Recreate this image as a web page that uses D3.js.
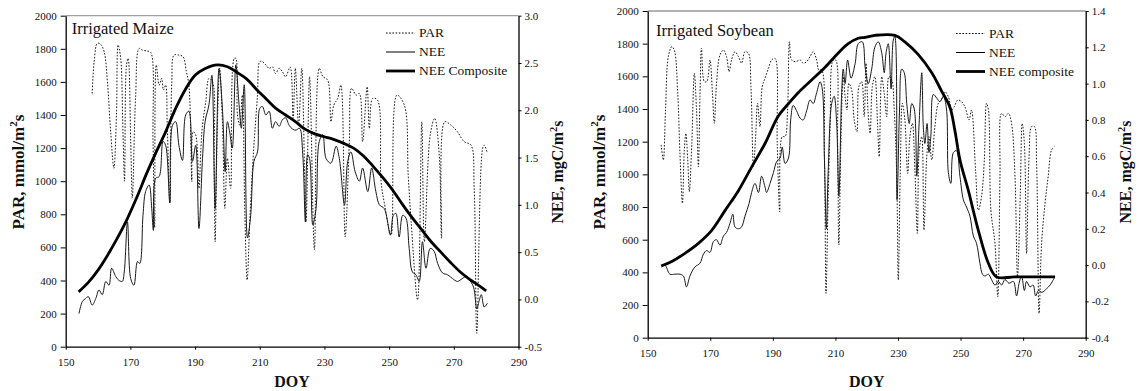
<!DOCTYPE html>
<html>
<head>
<meta charset="utf-8">
<script src="https://cdn.jsdelivr.net/npm/d3@7"></script>
<style>
  html, body { margin: 0; padding: 0; background: #fff; }
  svg { display: block; font-family: 'Liberation Serif', 'Times New Roman', serif; }
</style>
</head>
<body>
<svg id="chart" width="1140" height="391"></svg>
<script>
// DOY ticks shared by both panels
const doyTicks = [150, 170, 190, 210, 230, 250, 270, 290];
const parTicks = [0, 200, 400, 600, 800, 1000, 1200, 1400, 1600, 1800, 2000];
const maizeNeeTicks = [-0.5, 0, 0.5, 1.0, 1.5, 2.0, 2.5, 3.0];
const soyNeeTicks = [-0.4, -0.2, 0, 0.2, 0.4, 0.6, 0.8, 1.0, 1.2, 1.4];

// Irrigated maize, [DOY, value]
const maizePar = [
  [158.2,1530],[158.8,1722],[159.8,1833],[160.8,1827],[161.9,1782],[162.9,1601],[163.9,1299],[164.9,1078],
  [165.7,1400],[166.2,1823],[167,1742],[167.7,1299],[168.2,1000],[168.8,1702],[169.3,1742],[170.1,1239],
  [170.6,900],[171.6,1500],[172.7,1802],[173.7,1792],[175.3,1786],[176.3,1778],[177,1239],[177.5,720],
  [178,1702],[178.9,1581],[179.7,1621],[180.2,1551],[180.9,1581],[181.4,1339],[182.2,870],[182.8,1601],
  [183.5,1762],[185,1762],[186.3,1752],[187.3,1662],[188.1,1581],[189,997],[189.4,1299],[190.2,1279],
  [191.2,957],[191.8,1198],[192.3,1339],[193.3,1480],[194.3,1621],[195.4,1601],[195.9,1118],[196.2,634],
  [196.9,1339],[197.6,1682],[198.5,1339],[199.2,836],[200,1138],[201,957],[202.1,1742],[202.6,1742],
  [203.1,1400],[203.8,1339],[204.6,1520],[205.4,795],[206.1,403],[207,795],[208,1158],[209.3,1520],
  [210,1722],[210.8,1722],[211.9,1702],[212.9,1682],[213.9,1692],[214.9,1651],[216,1682],[217,1662],
  [218,1631],[219.4,1690],[220.3,1380],[221,1682],[222,1339],[223,1682],[224.3,753],[225.4,1631],
  [226.9,586],[228.4,1682],[229.5,1632],[231,1611],[232,1359],[232.9,1460],[234.1,1500],[235.1,1581],
  [236.4,665],[237.7,1239],[238.4,1561],[239.8,1520],[240.8,1530],[241.8,1239],[243.2,1571],[243.9,1319],
  [244.9,1500],[246.4,1490],[247.5,1000],[248.5,870],[250.6,675],[252.4,1520],[254.7,1460],[255.9,1037],
  [256.8,757],[258.8,282],[260.1,1359],[260.9,635],[262.7,1279],[264.1,1380],[265.5,1158],[266.2,655],
  [267.2,1359],[269.1,1339],[271.1,1299],[273.2,1239],[275.3,1218],[276.3,957],[277.1,81],[278.9,1198],
  [279.4,1218],[280.4,1168]
];
const maizeNee = [
  [154.1,-0.15],[155.2,-0.02],[156.2,0.01],[157,0.03],[158.2,-0.06],[159.3,0.01],[160.3,0.10],[161.3,0.05],
  [162.4,0.19],[163.4,0.15],[164.2,0.33],[165.5,0.24],[166.5,0.20],[167.5,0.19],[168.1,0.29],[169.1,0.82],
  [170.1,0.22],[171.1,0.15],[172.2,0.40],[172.9,0.38],[173.9,0.89],[174.7,1.14],[175.8,1.21],[176.6,0.96],
  [177.1,0.73],[177.8,1.28],[178.9,1.30],[180.1,1.67],[180.9,1.63],[182.2,1.02],[183,1.84],[184,1.88],
  [185,1.63],[186.1,1.47],[187.1,1.95],[188.1,1.99],[189.2,1.46],[190.2,1.63],[191.2,0.75],[192.3,1.49],
  [193.1,1.88],[194.3,2.06],[195.2,2.37],[196.2,0.96],[197.4,2.44],[198.5,1.99],[199.3,1.35],[200,1.88],
  [200.7,1.77],[201.5,1.60],[202.6,2.48],[203.6,2.06],[204.3,1.81],[205.2,2.27],[206.2,0.65],[207.2,0.89],
  [208.2,1.46],[209.3,1.56],[210,2.02],[210.8,2.04],[211.9,1.95],[212.9,1.99],[213.9,1.81],[214.9,1.88],
  [216,1.83],[217,1.90],[218,1.92],[219.1,1.84],[220.2,1.80],[221.2,1.79],[222.3,1.81],[223.3,1.53],
  [224.1,0.82],[224.8,1.53],[225.4,1.49],[226.4,0.79],[227.4,0.96],[228.4,1.67],[229.5,1.74],[230.5,1.49],
  [232,1.44],[233.6,1.62],[234.6,1.49],[236.2,1.00],[237.2,1.46],[238.2,1.56],[239.5,1.35],[240.8,1.25],
  [241.8,1.39],[243.4,1.14],[244.6,1.39],[245.9,1.14],[247,1.00],[248.5,0.96],[250.4,0.68],[251.3,0.89],
  [252.1,0.91],[253.1,0.66],[254.2,0.89],[255.2,0.86],[256.2,0.54],[257.2,0.29],[258.3,0.26],[259.3,0.19],
  [260.3,0.61],[261.4,0.33],[262.7,0.54],[263.9,0.51],[265,0.38],[266.5,0.28],[268.1,0.26],[269.6,0.22],
  [271.1,0.19],[272.2,0.21],[273.7,0.24],[274.7,0.21],[276.1,0.13],[277.1,-0.10],[277.8,-0.02],[278.5,0.05],
  [279.4,-0.08],[280.4,-0.04]
];
const maizeComposite = [
  [154,0.08],[157,0.18],[160,0.31],[163,0.47],[166,0.65],[169,0.85],[172,1.08],[175,1.33],[178,1.56],
  [181,1.78],[184,2.02],[187,2.22],[190,2.37],[193,2.44],[197,2.48],[200,2.46],[203,2.40],[206,2.33],
  [209,2.22],[212,2.12],[215,2.02],[218,1.95],[221,1.88],[224,1.80],[227,1.75],[230,1.72],[233,1.69],
  [236,1.65],[239,1.60],[242,1.52],[245,1.41],[248,1.29],[251,1.16],[254,1.01],[257,0.87],[260,0.74],
  [263,0.61],[266,0.50],[269,0.39],[272,0.29],[275,0.21],[278,0.14],[280,0.09]
];

// Irrigated soybean, [DOY, value]
const soyPar = [
  [154.3,1180],[155,1088],[155.7,1394],[156.6,1721],[157.7,1782],[158.5,1761],[159.6,1496],[160.3,1129],
  [161.1,823],[161.7,1149],[162.2,1251],[162.8,1088],[163.3,894],[164.1,1190],[164.9,1619],[165.6,1394],
  [166.2,1047],[166.7,1476],[167.2,1772],[168.1,1568],[168.9,1568],[169.9,1700],[170.7,1496],[171.3,1312],
  [172,1557],[173.1,1731],[174.2,1761],[175.2,1721],[176,1629],[176.8,1700],[177.9,1751],[179,1721],
  [180,1680],[181.1,1751],[182.2,1741],[183,1537],[183.8,1047],[184.5,1231],[185.1,1435],[185.9,1292],
  [186.6,1537],[187.5,1588],[188.6,1649],[189.6,1700],[190.7,1710],[191.4,1190],[192.2,771],[193,1231],
  [193.9,1231],[194.7,1394],[195.3,1812],[196,1700],[197.3,1690],[198.7,1700],[199.7,1680],[200.8,1690],
  [201.9,1721],[202.9,1751],[204,1700],[204.7,1639],[205.6,1639],[206.5,1088],[207,272],[207.6,781],
  [208.3,1292],[209.3,1700],[210.1,1700],[210.7,1190],[211.1,568],[211.8,1231],[212.5,1598],[213.1,1476],
  [213.7,1394],[214.3,1557],[215.2,1516],[216,1333],[216.9,1261],[217.5,1537],[218.4,1568],[219.2,1353],
  [219.8,1680],[220.4,1394],[221.1,1251],[221.8,1537],[222.6,1598],[223.5,1292],[224,1108],[224.8,1598],
  [225.6,1496],[226.4,1353],[227.1,1598],[228,1578],[228.8,1394],[229.6,986],[230.1,353],[230.7,986],
  [231.4,1435],[232.2,1333],[233.1,1006],[233.8,1231],[234.6,1312],[235.4,1027],[236.2,639],[236.8,1149],
  [237.6,1231],[238.3,659],[239.2,1108],[239.9,1231],[240.8,1088],[241.8,1292],[242.9,1435],[244.2,1466],
  [245,1506],[246.1,1476],[247.2,1394],[248,1414],[249.1,1455],[250.3,1445],[251.4,1414],[252.7,1333],
  [253.5,1394],[254.8,1027],[255.7,781],[256.7,863],[257.6,1088],[258.3,1435],[258.9,1394],[259.7,781],
  [261,577],[261.9,251],[262.6,986],[263.1,1373],[264.2,1353],[265.3,1373],[266.3,1312],[267.4,986],
  [268.2,373],[269.1,884],[269.7,1312],[270.4,1190],[271.1,516],[271.9,1108],[272.7,1292],[273.6,1292],
  [274.3,1067],[275.1,149],[275.9,577],[277,822],[278,986],[279.1,1149],[280,1169]
];
const soyNee = [
  [154.5,-0.01],[155.5,0.00],[157.1,-0.05],[158.7,-0.05],[160.3,-0.05],[161.4,-0.06],[162.4,-0.12],[163.5,-0.06],
  [165.1,-0.01],[166.7,0.01],[167.8,0.06],[168.8,0.08],[169.9,0.07],[171,0.13],[172,0.14],[173.1,0.11],
  [174.2,0.16],[175.2,0.18],[176.3,0.23],[177.2,0.28],[177.9,0.21],[179,0.20],[180,0.21],[181.1,0.27],
  [182.4,0.34],[183.2,0.40],[184.3,0.45],[185.4,0.40],[186.4,0.49],[187.5,0.43],[188,0.40],[189.1,0.45],
  [190.2,0.51],[191.2,0.57],[192.3,0.59],[193,0.65],[193.9,0.56],[195,0.59],[195.7,0.80],[196.5,0.88],
  [197.6,0.85],[198.7,0.81],[199.7,0.80],[200.8,0.85],[201.9,0.91],[202.9,0.89],[204,0.95],[205.1,1.01],
  [205.8,0.97],[206.5,0.58],[207.1,0.20],[207.7,0.52],[208.8,0.89],[209.6,0.93],[210.4,0.78],[211.1,0.38],
  [212,0.95],[212.5,1.08],[213.1,1.00],[213.9,1.13],[215,1.03],[216.3,1.11],[217.3,1.22],[218.6,1.23],
  [219.5,1.09],[220.5,1.00],[221.6,1.08],[222.6,1.20],[223.7,1.23],[224.8,1.17],[225.6,1.06],[226.2,1.17],
  [226.9,1.22],[227.8,0.97],[228.5,1.24],[229,1.26],[229.7,0.36],[230.5,0.86],[231.2,1.08],[232,1.06],
  [232.8,0.89],[233.6,0.78],[234.4,0.89],[235.2,0.86],[236,0.49],[236.7,0.76],[237.6,1.06],[238.1,0.76],
  [238.6,0.67],[239.3,0.78],[239.9,0.62],[240.5,0.71],[241.3,0.94],[242.4,0.92],[243.4,0.90],[244.5,0.93],
  [245.5,0.86],[246.1,0.51],[246.9,0.45],[247.7,0.62],[248.7,0.63],[249.8,0.49],[250.9,0.36],[251.9,0.32],
  [253,0.27],[254.1,0.16],[255.1,0.12],[256.2,0.01],[257,-0.05],[257.8,-0.06],[258.9,-0.05],[259.9,-0.08],
  [261,-0.11],[262.1,-0.09],[263.1,-0.11],[264.2,-0.08],[265.5,-0.10],[266.9,-0.09],[267.9,-0.17],[268.7,-0.10],
  [269.5,-0.06],[270.4,-0.14],[271.1,-0.09],[272.2,-0.12],[273.2,-0.11],[274,-0.17],[274.9,-0.14],[276,-0.15],
  [277.5,-0.13],[278.6,-0.11],[280,-0.07]
];
const soyComposite = [
  [154.3,-0.005],[157.7,0.02],[161.9,0.065],[166.2,0.12],[170.4,0.19],[174.7,0.30],[179,0.41],[183.2,0.54],
  [187.5,0.67],[191.7,0.82],[195,0.89],[198.1,0.95],[202.4,1.02],[206.7,1.09],[211,1.17],[214.1,1.22],
  [217.3,1.25],[219.5,1.255],[222.6,1.266],[229,1.266],[232.2,1.23],[236.5,1.16],[240.8,1.06],[243.9,0.96],
  [246.6,0.87],[248.2,0.74],[249.8,0.58],[252.5,0.41],[255.7,0.19],[258.9,0.01],[261.5,-0.065],[267.4,-0.065],
  [280.2,-0.065]
];

const svg = d3.select('#chart');
const serif = "'Liberation Serif', 'Times New Roman', serif";
const fmtNee = d => d3.format('.1f')(d).replace('\u2212', '-');
const fmtPar = d3.format('d');

function drawPanel(cfg) {
  const x = d3.scaleLinear().domain([150, 290]).range([cfg.left, cfg.right]);
  const yPar = d3.scaleLinear().domain([0, 2000]).range([cfg.bottom, cfg.top]);
  const yNee = d3.scaleLinear().domain(cfg.neeDomain).range([cfg.bottom, cfg.top]);

  const g = svg.append('g');

  // top frame line
  g.append('line')
    .attr('x1', cfg.left).attr('x2', cfg.right)
    .attr('y1', cfg.top).attr('y2', cfg.top)
    .attr('stroke', cfg.frameColor).attr('stroke-width', 1.2);

  const ax = (sel) => {
    sel.attr('font-family', serif).attr('font-size', 11);
    sel.selectAll('text').attr('fill', '#111');
    sel.selectAll('line').attr('stroke', '#000');
    sel.select('.domain').attr('stroke', '#000').attr('stroke-width', 1.3);
  };

  g.append('g')
    .attr('transform', `translate(0,${cfg.bottom})`)
    .call(d3.axisBottom(x).tickValues(doyTicks).tickFormat(fmtPar)
      .tickSize(3).tickSizeOuter(0).tickPadding(9))
    .call(ax);

  g.append('g')
    .attr('transform', `translate(${cfg.left},0)`)
    .call(d3.axisLeft(yPar).tickValues(parTicks).tickFormat(fmtPar)
      .tickSize(5).tickSizeOuter(0).tickPadding(4))
    .call(ax);

  g.append('g')
    .attr('transform', `translate(${cfg.right},0)`)
    .call(d3.axisRight(yNee).tickValues(cfg.neeTicks).tickFormat(fmtNee)
      .tickSize(3).tickSizeOuter(0).tickPadding(3))
    .call(ax);

  const curve = d3.curveCatmullRom.alpha(0.5);
  const parLine = d3.line().x(d => x(d[0])).y(d => yPar(d[1])).curve(curve);
  const neeLine = d3.line().x(d => x(d[0])).y(d => yNee(d[1])).curve(curve);

  g.append('path').datum(cfg.par).attr('d', parLine)
    .attr('fill', 'none').attr('stroke', '#000').attr('stroke-width', 0.9)
    .attr('stroke-dasharray', '1.6,1.6');
  g.append('path').datum(cfg.nee).attr('d', neeLine)
    .attr('fill', 'none').attr('stroke', '#1a1a1a').attr('stroke-width', 1);
  g.append('path').datum(cfg.composite).attr('d', neeLine)
    .attr('fill', 'none').attr('stroke', '#000').attr('stroke-width', 2.8)
    .attr('stroke-linejoin', 'round');

  // title
  g.append('text')
    .attr('x', cfg.titleX).attr('y', cfg.titleY)
    .attr('font-size', 16.5).attr('fill', '#111')
    .text(cfg.title);

  // legend
  const legend = [
    { label: 'PAR', dash: '1.6,1.6', w: 1 },
    { label: 'NEE', dash: null, w: 1 },
    { label: cfg.compositeLabel, dash: null, w: 2.8 },
  ];
  legend.forEach((d, i) => {
    const ly = cfg.legendY + i * 19;
    g.append('line')
      .attr('x1', cfg.legendX).attr('x2', cfg.legendX + 29)
      .attr('y1', ly).attr('y2', ly)
      .attr('stroke', '#000').attr('stroke-width', d.w)
      .attr('stroke-dasharray', d.dash);
    g.append('text')
      .attr('x', cfg.legendX + 33).attr('y', ly).attr('dy', '0.33em')
      .attr('font-size', 13.5).attr('fill', '#111')
      .text(d.label);
  });

  // axis titles
  const axisTitle = (cx, cy, size, main) => {
    const t = g.append('text')
      .attr('transform', `translate(${cx},${cy}) rotate(-90)`)
      .attr('text-anchor', 'middle')
      .attr('font-weight', 'bold').attr('font-size', size).attr('fill', '#111');
    t.append('tspan').text(main);
    t.append('tspan').attr('font-size', size * 0.65).attr('dy', -size * 0.4).text('2');
    t.append('tspan').attr('dy', size * 0.4).text('s');
  };
  axisTitle(cfg.parLabelX, cfg.labelY, 17, 'PAR, mmol/m');
  axisTitle(cfg.neeLabelX, cfg.labelY, cfg.neeLabelSize, 'NEE, mgC/m');

  g.append('text')
    .attr('x', (cfg.left + cfg.right) / 2).attr('y', cfg.doyY)
    .attr('text-anchor', 'middle')
    .attr('font-weight', 'bold').attr('font-size', 16).attr('fill', '#111')
    .text('DOY');
}

drawPanel({
  left: 65.7, right: 518.5, top: 15.7, bottom: 346.7,
  neeDomain: [-0.5, 3], neeTicks: maizeNeeTicks,
  par: maizePar, nee: maizeNee, composite: maizeComposite,
  frameColor: '#a0a0a0',
  title: 'Irrigated Maize', titleX: 71.7, titleY: 34.3,
  legendX: 386, legendY: 33, compositeLabel: 'NEE Composite',
  parLabelX: 24, neeLabelX: 563, neeLabelSize: 16, labelY: 172,
  doyY: 387
});

drawPanel({
  left: 647.7, right: 1085.7, top: 11, bottom: 337.7,
  neeDomain: [-0.4, 1.4], neeTicks: soyNeeTicks,
  par: soyPar, nee: soyNee, composite: soyComposite,
  frameColor: '#666',
  title: 'Irrigated Soybean', titleX: 656, titleY: 36,
  legendX: 956, legendY: 33.5, compositeLabel: 'NEE composite',
  parLabelX: 605, neeLabelX: 1131, neeLabelSize: 16, labelY: 172,
  doyY: 387
});
</script>
</body>
</html>
